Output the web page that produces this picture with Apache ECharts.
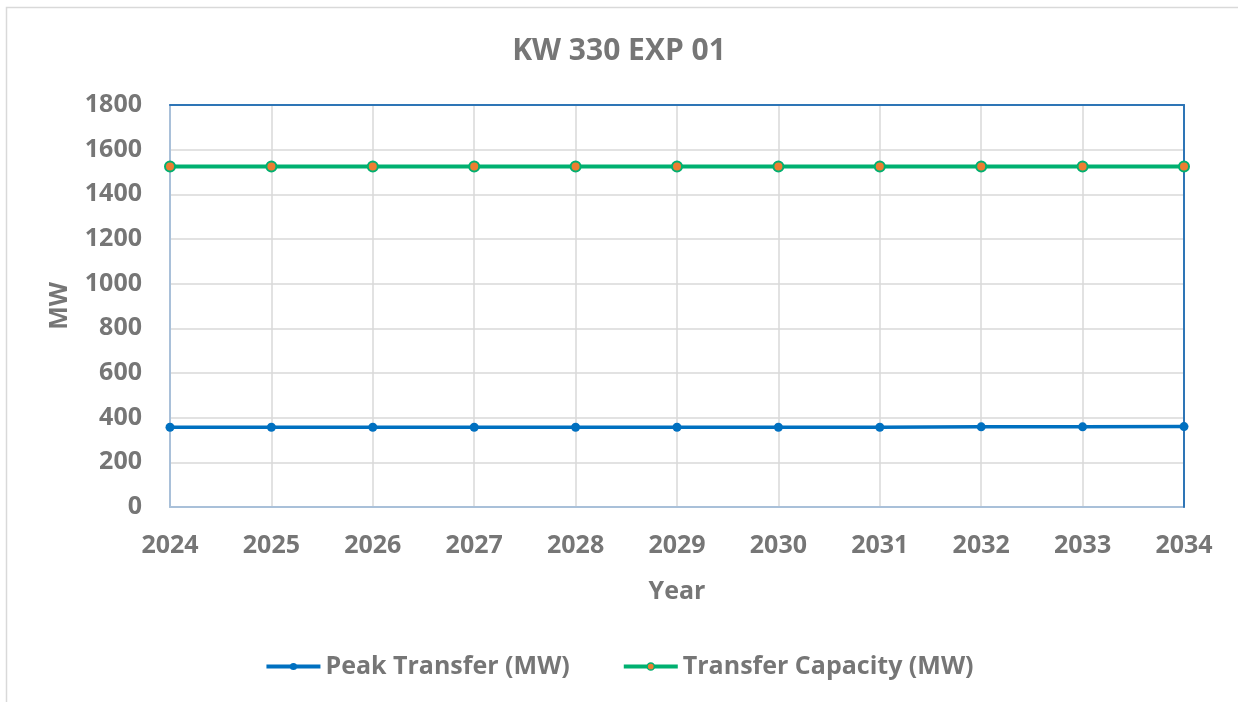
<!DOCTYPE html>
<html>
<head>
<meta charset="utf-8">
<script src="https://cdn.jsdelivr.net/npm/echarts@6/dist/echarts.min.js"></script>
<style>
  html, body { margin: 0; padding: 0; background: #fff; }
  #chart { width: 1238px; height: 702px; }
</style>
</head>
<body>
<div id="chart"></div>
<script>
// Years on the category axis
const years = ['2024', '2025', '2026', '2027', '2028', '2029', '2030', '2031', '2032', '2033', '2034'];
// Peak transfer through the element, MW
const peakTransfer = [357, 357, 357, 357, 357, 357, 357, 357, 359, 359, 360];
// Transfer capacity, MW
const transferCapacity = [1525, 1525, 1525, 1525, 1525, 1525, 1525, 1525, 1525, 1525, 1525];

const textGrey = '#767676';
const font = '"Open Sans", "DejaVu Sans", sans-serif';
const frameBlue = '#2E75B6';
const axisBlue = '#A9C0D9';

const chart = echarts.init(document.getElementById('chart'), null, { renderer: 'canvas' });
chart.setOption({
  animation: false,
  backgroundColor: '#fff',
  graphic: [{
    type: 'rect',
    shape: { x: 6.5, y: 7.5, width: 1240, height: 700 },
    style: { fill: 'none', stroke: '#d9d9d9', lineWidth: 1.5 },
    silent: true
  }],
  title: {
    text: 'KW 330 EXP 01',
    left: 'center',
    top: 31,
    textStyle: { color: textGrey, fontFamily: font, fontWeight: 'bold', fontSize: 30 }
  },
  legend: {
    bottom: 18,
    left: 'center',
    itemWidth: 54,
    itemHeight: 9,
    itemGap: 52,
    textStyle: { color: textGrey, fontFamily: font, fontWeight: 'bold', fontSize: 25 },
    data: [
      { name: 'Peak Transfer (MW)', itemStyle: { color: '#0070C0', borderWidth: 0 }, lineStyle: { color: '#0070C0', width: 4 } },
      { name: 'Transfer Capacity (MW)', itemStyle: { color: '#ED7D31', borderColor: '#00B070', borderWidth: 1.5 }, lineStyle: { color: '#00B070', width: 4 } }
    ]
  },
  grid: { left: 170, right: 54, top: 105, bottom: 195 },
  xAxis: [{
    type: 'category',
    data: years,
    boundaryGap: false,
    name: 'Year',
    nameLocation: 'middle',
    nameGap: 72,
    nameTextStyle: { color: textGrey, fontFamily: font, fontWeight: 'bold', fontSize: 25 },
    axisLine: { show: true, lineStyle: { color: axisBlue, width: 2 } },
    axisTick: { show: false },
    axisLabel: { color: textGrey, fontFamily: font, fontWeight: 'bold', fontSize: 25, margin: 26 },
    splitLine: { show: true, showMaxLine: false, lineStyle: { color: '#D9D9D9', width: 1.5 } }
  }, {
    // top edge of the plot frame
    type: 'category',
    data: years,
    boundaryGap: false,
    position: 'top',
    z: 5,
    axisLine: { show: true, onZero: false, lineStyle: { color: frameBlue, width: 2 } },
    axisTick: { show: false },
    axisLabel: { show: false },
    splitLine: { show: false }
  }],
  yAxis: [{
    type: 'value',
    min: 0,
    max: 1800,
    interval: 200,
    name: 'MW',
    nameLocation: 'middle',
    nameGap: 98,
    nameRotate: 90,
    nameTextStyle: { color: textGrey, fontFamily: font, fontWeight: 'bold', fontSize: 25 },
    axisLine: { show: true, lineStyle: { color: axisBlue, width: 2 } },
    axisTick: { show: false },
    axisLabel: { color: textGrey, fontFamily: font, fontWeight: 'bold', fontSize: 25, margin: 28, formatter: v => String(v) },
    splitLine: { show: true, showMaxLine: false, lineStyle: { color: '#D9D9D9', width: 1.5 } }
  }, {
    // right edge of the plot frame
    type: 'value',
    min: 0,
    max: 1800,
    interval: 200,
    position: 'right',
    z: 5,
    axisLine: { show: true, onZero: false, lineStyle: { color: frameBlue, width: 2 } },
    axisTick: { show: false },
    axisLabel: { show: false },
    splitLine: { show: false }
  }],
  series: [
    {
      name: 'Peak Transfer (MW)',
      type: 'line',
      data: peakTransfer,
      symbol: 'circle',
      symbolSize: 9,
      z: 6,
      lineStyle: { color: '#0070C0', width: 3.5 },
      itemStyle: { color: '#0070C0', borderColor: '#0070C0', borderWidth: 0 }
    },
    {
      name: 'Transfer Capacity (MW)',
      type: 'line',
      data: transferCapacity,
      symbol: 'circle',
      symbolSize: 10,
      z: 6,
      lineStyle: { color: '#00B070', width: 4 },
      itemStyle: { color: '#ED7D31', borderColor: '#00B070', borderWidth: 2 }
    }
  ]
});
</script>
</body>
</html>
